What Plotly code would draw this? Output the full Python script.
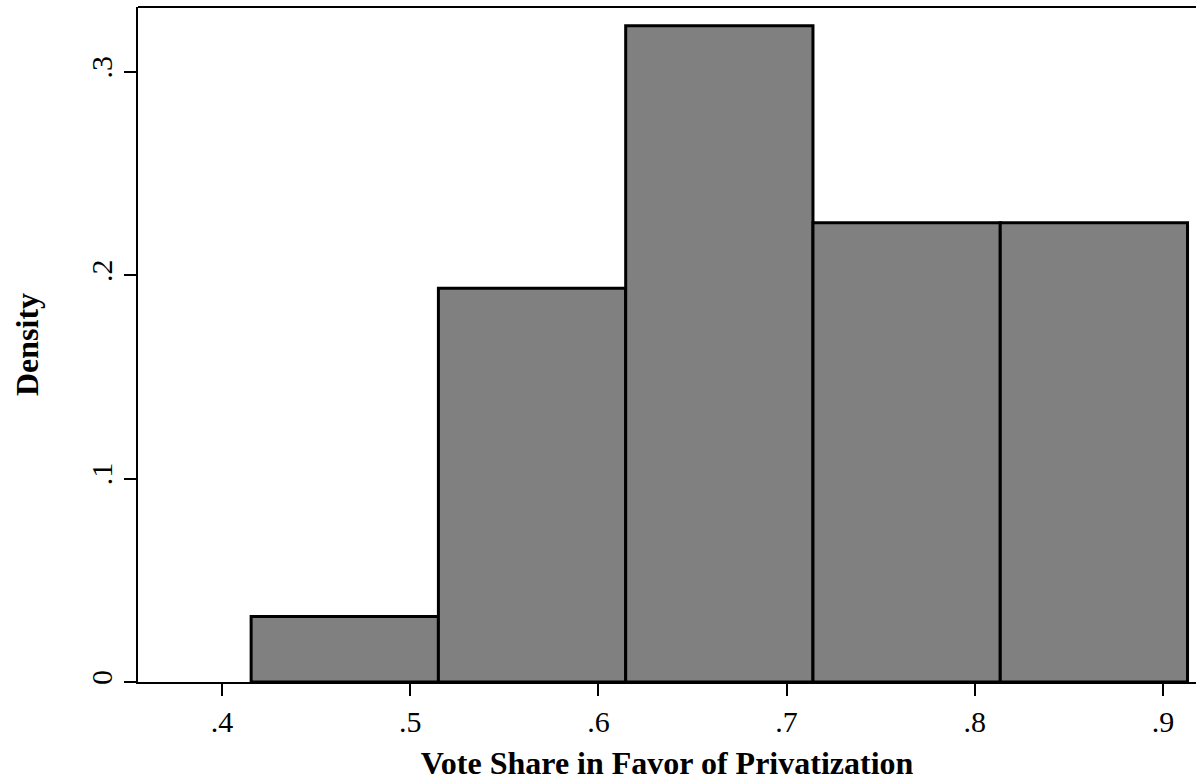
import plotly.graph_objects as go

bin_left = [0.4155, 0.5150, 0.6145, 0.7140, 0.8135]
bin_width = 0.0995
density = [1/31, 6/31, 10/31, 7/31, 7/31]
x_ticks = [0.4, 0.5, 0.6, 0.7, 0.8, 0.9]
x_labels = [".4", ".5", ".6", ".7", ".8", ".9"]
y_ticks = [0, 0.1, 0.2, 0.3]
y_labels = ["0", ".1", ".2", ".3"]

centers = [b + bin_width / 2 for b in bin_left]

fig = go.Figure(go.Bar(
    x=centers, y=density, width=[bin_width] * len(centers),
    marker=dict(color="#808080", line=dict(color="black", width=3)),
))

font = "Liberation Serif, Times New Roman, serif"
fig.update_layout(
    width=1196, height=781,
    margin=dict(l=138, r=0, t=7, b=99),
    paper_bgcolor="white", plot_bgcolor="white",
    showlegend=False,
    font=dict(family=font, size=30, color="black"),
    xaxis=dict(
        range=[0.3554, 0.9175], tickvals=x_ticks, ticktext=x_labels,
        showline=True, linecolor="black", linewidth=2,
        ticks="outside", ticklen=12, tickwidth=2, tickcolor="black",
        showgrid=False, zeroline=False,
        tickfont=dict(size=30),
        title=dict(text="<b>Vote Share in Favor of Privatization</b>", standoff=17,
                   font=dict(size=32)),
    ),
    yaxis=dict(
        range=[0, 0.3318], tickvals=y_ticks, ticktext=y_labels, tickangle=-90,
        showline=True, linecolor="black", linewidth=2,
        ticks="outside", ticklen=12, tickwidth=2, tickcolor="black",
        showgrid=False, zeroline=False,
        tickfont=dict(size=30),
        title=dict(text="<b>Density</b>", standoff=37, font=dict(size=32)),
    ),
    shapes=[dict(type="line", xref="paper", yref="paper", x0=0, x1=1, y0=1, y1=1,
                 line=dict(color="black", width=2))],
)

fig.write_html("out.html", config={"displayModeBar": False},
               post_script="document.body.style.margin='0px';")
